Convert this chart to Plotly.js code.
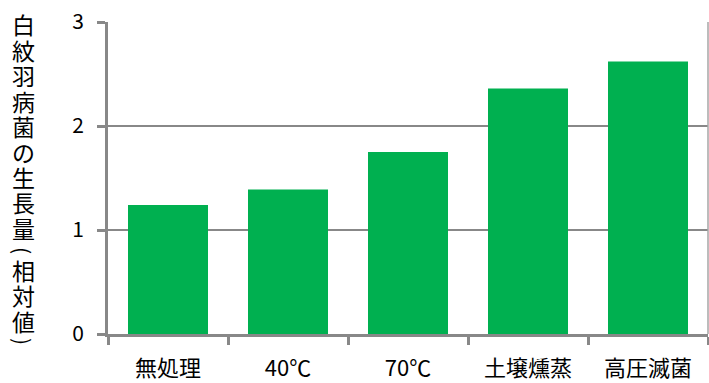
<!DOCTYPE html>
<html>
<head>
<meta charset="utf-8">
<script src="https://cdn.plot.ly/plotly-3.0.1.min.js"></script>
<style>html,body{margin:0;padding:0;background:#fff;}#chart{width:709px;height:383px;}</style>
</head>
<body>
<div id="chart"></div>
<script>
// ---- data ----
const categories = ["無処理", "40℃", "70℃", "土壌燻蒸", "高圧滅菌"];
const growth = [1.24, 1.39, 1.75, 2.36, 2.62];
const yTickValues = [0, 1, 2, 3];
const yTitleChars = ["白","紋","羽","病","菌","の","生","長","量","(","相","対","値",")"];

// ---- layout helpers ----
const W = 709, H = 383;
const M = {l: 108, r: 1, t: 22, b: 49};
const plotW = W - M.l - M.r, plotH = H - M.t - M.b;
const px2x = px => (px - M.l) / plotW;
const py2y = py => (H - M.b - py) / plotH;

const titleY = [24, 49.5, 75, 100.5, 126, 151.5, 177, 202.5, 228, 250, 270, 295, 321, 341];
const gray = "#888888";
const jp = "'Noto Sans CJK JP', 'Noto Sans', sans-serif";

const annotations = yTitleChars.map((ch, i) => {
  const isParen = (ch === "(" || ch === ")");
  return {
    text: ch, xref: "paper", yref: "paper",
    x: px2x(23), y: py2y(titleY[i]),
    xanchor: "center", yanchor: "middle",
    showarrow: false,
    textangle: isParen ? 90 : 0,
    font: {family: jp, size: isParen ? 21 : 23, color: "#000"}
  };
});

const trace = {
  type: "bar",
  x: categories,
  y: growth,
  marker: {color: "#00B050", line: {width: 0}},
  hoverinfo: "none"
};

const layout = {
  width: W, height: H,
  margin: M,
  paper_bgcolor: "#fff", plot_bgcolor: "#fff",
  showlegend: false,
  bargap: 1/3,
  font: {family: jp, color: "#000"},
  xaxis: {
    type: "category",
    showline: true, linecolor: gray, linewidth: 3,
    ticks: "outside", tickson: "boundaries", ticklen: 8, tickwidth: 3, tickcolor: gray,
    showgrid: false, zeroline: false,
    tickfont: {family: jp, size: 22, color: "#000"},
    ticklabelstandoff: 13
  },
  yaxis: {
    range: [0, 3],
    tickvals: yTickValues, ticktext: yTickValues.map(String),
    showline: true, linecolor: gray, linewidth: 3,
    ticks: "outside", ticklen: 8, tickwidth: 3, tickcolor: gray,
    showgrid: true, gridcolor: gray, gridwidth: 2.5,
    zeroline: false,
    tickfont: {family: jp, size: 21, color: "#000"},
    ticklabelstandoff: 9
  },
  shapes: [{
    type: "line", xref: "paper", yref: "paper",
    x0: 1, x1: 1, y0: 0, y1: 1,
    line: {color: "#a6a6a6", width: 1.5}
  }],
  annotations: annotations
};

Plotly.newPlot("chart", [trace], layout, {staticPlot: true, displayModeBar: false});
</script>
</body>
</html>
